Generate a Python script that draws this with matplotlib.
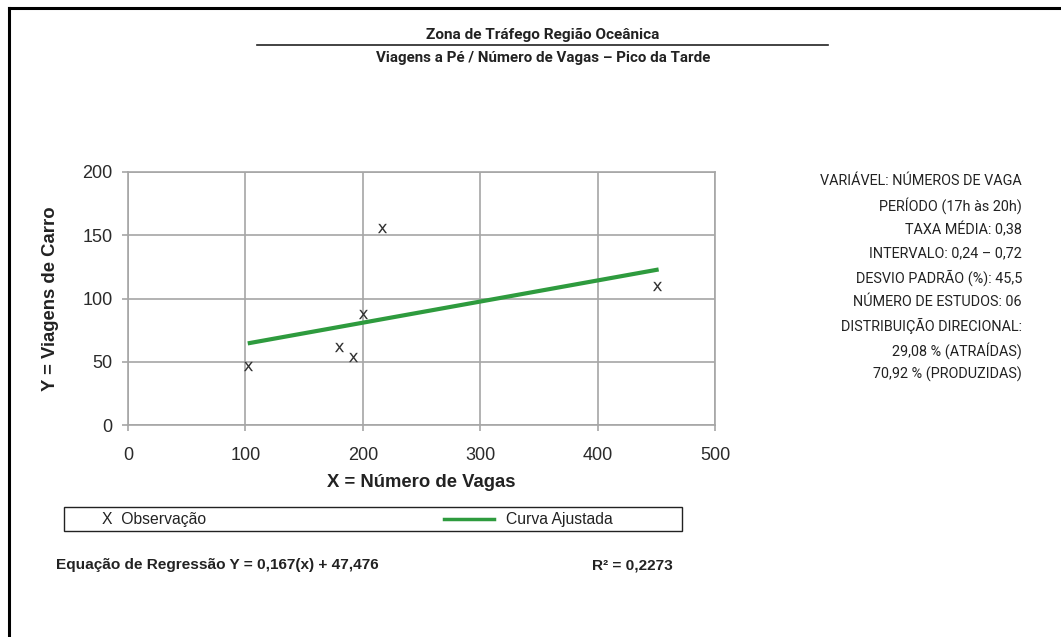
import matplotlib
matplotlib.use("Agg")
import matplotlib.pyplot as plt
from matplotlib.lines import Line2D
from matplotlib.patches import Rectangle

# ---- data ----
obs_x = [102, 180, 192, 200, 216, 451]
obs_y = [47, 62, 54, 88, 156, 110]
fit_slope = 0.167
fit_intercept = 47.476
fit_x = [102, 452]
fit_y = [fit_slope * v + fit_intercept for v in fit_x]
x_ticks = [0, 100, 200, 300, 400, 500]
y_ticks = [0, 50, 100, 150, 200]

title = "Zona de Tráfego Região Oceânica"
subtitle = "Viagens a Pé / Número de Vagas – Pico da Tarde"
xlabel = "X = Número de Vagas"
ylabel = "Y = Viagens de Carro"
info_lines = [
    "VARIÁVEL: NÚMEROS DE VAGA",
    "PERÍODO (17h às 20h)",
    "TAXA MÉDIA: 0,38",
    "INTERVALO: 0,24 – 0,72",
    "DESVIO PADRÃO (%): 45,5",
    "NÚMERO DE ESTUDOS: 06",
    "DISTRIBUIÇÃO DIRECIONAL:",
    "29,08 % (ATRAÍDAS)",
    "70,92 % (PRODUZIDAS)",
]
equation = "Equação de Regressão Y = 0,167(x) + 47,476"
r2_text = "R² = 0,2273"

W, H = 1061, 637
fig = plt.figure(figsize=(W / 100, H / 100), dpi=100)
fig.patch.set_facecolor("white")

narrow = ["Roboto", "DejaVu Sans"]
arial = ["Liberation Sans", "DejaVu Sans"]
txt = "#222222"

def fx(px):
    return px / W

def fy(py):
    return 1 - py / H

# outer frame: top and left lines
fig.add_artist(Line2D([fx(9), 1.0], [fy(8), fy(8)], color="black", lw=2.2))
fig.add_artist(Line2D([fx(9), fx(9)], [fy(8), 0.0], color="black", lw=2.2))

# titles
fig.text(fx(543), fy(35), title, ha="center", va="center", fontsize=11.1,
         fontweight="bold", family=narrow, color=txt)
fig.add_artist(Line2D([fx(257), fx(828)], [fy(45), fy(45)], color=txt, lw=1.2))
fig.text(fx(543), fy(58), subtitle, ha="center", va="center", fontsize=10.9,
         fontweight="bold", family=narrow, color=txt)

# axes
ax = fig.add_axes([fx(128), fy(425), fx(715) - fx(128), fy(172) - fy(425)])
ax.set_xlim(0, 500)
ax.set_ylim(0, 200)
ax.set_xticks(x_ticks)
ax.set_yticks(y_ticks)
ax.grid(True, color="#a6a6a6", lw=1.2)
ax.set_axisbelow(True)
for s in ax.spines.values():
    s.set_color("#a6a6a6")
    s.set_linewidth(1.2)
ax.tick_params(axis="both", colors="#a6a6a6", length=4.5, width=1.2,
               labelcolor="#2a2a2a", labelsize=13)
ax.tick_params(axis="x", pad=11)
ax.tick_params(axis="y", pad=6.5)
for lab in ax.get_xticklabels() + ax.get_yticklabels():
    lab.set_family(arial)

ax.plot(fit_x, fit_y, color="#2e9b3e", lw=3, solid_capstyle="butt", zorder=3)
ax.scatter(obs_x, obs_y, marker=r"$\mathsf{x}$", s=45, color="#333333",
           linewidths=0, zorder=4)

ax.set_xlabel(xlabel, fontsize=13.3, fontweight="bold", family=arial,
              color=txt, labelpad=7.5)
ax.set_ylabel(ylabel, fontsize=13.3, fontweight="bold", family=arial,
              color=txt, labelpad=17)

# right info block
y0 = 181
for i, line in enumerate(info_lines):
    fig.text(fx(1022), fy(y0 + i * 24.2), line, ha="right", va="center",
             fontsize=10.4, family=narrow, color=txt)

# legend box
fig.add_artist(Rectangle((fx(64), fy(531)), fx(682) - fx(64), fy(507) - fy(531),
                         transform=fig.transFigure, fill=False, ec=txt, lw=1.0))
fig.text(fx(102), fy(519.5), "X  Observação", ha="left", va="center", fontsize=11.3,
         family=arial, color=txt)
fig.add_artist(Line2D([fx(444), fx(494)], [fy(519), fy(519)], color="#2e9b3e", lw=2.5))
fig.text(fx(506), fy(519.5), "Curva Ajustada", ha="left", va="center", fontsize=11.3,
         family=arial, color=txt)

# equation and R²
fig.text(fx(56), fy(565.5), equation, ha="left", va="center", fontsize=11.1,
         fontweight="bold", family=arial, color=txt)
fig.text(fx(592), fy(565.5), r2_text, ha="left", va="center", fontsize=11.1,
         fontweight="bold", family=arial, color=txt)

fig.savefig("out.png", dpi=100, facecolor="white")
